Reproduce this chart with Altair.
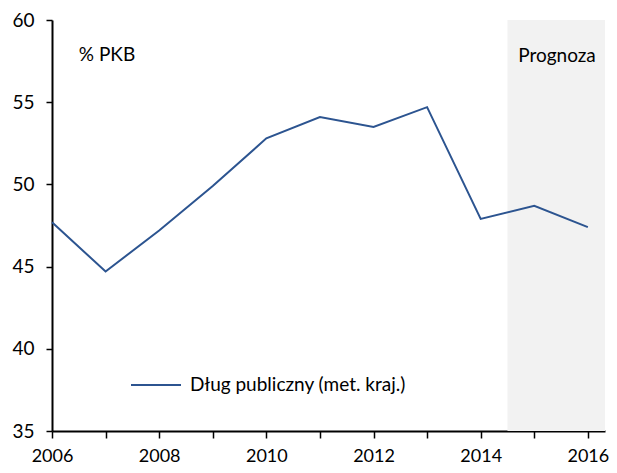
import altair as alt
import pandas as pd

years = [2006, 2007, 2008, 2009, 2010, 2011, 2012, 2013, 2014, 2015, 2016]
debt = [47.7, 44.7, 47.2, 49.9, 52.8, 54.1, 53.5, 54.7, 47.9, 48.7, 47.4]
series_name = "Dług publiczny (met. kraj.)"
forecast_start = 2014.5
x_end = 2016.32
y_ticks = [35, 40, 45, 50, 55, 60]
x_ticks = years
FONT = "Lato"

line_df = pd.DataFrame({"year": years, "value": debt, "series": series_name})
shade_df = pd.DataFrame({"x": [forecast_start], "x2": [x_end], "y": [35], "y2": [60]})
text_df = pd.DataFrame({"x": [2006.5, 2014.7], "y": [57.9, 57.8], "label": ["% PKB", "Prognoza"]})

xscale = alt.Scale(domain=[2006, x_end], nice=False, zero=False)
yscale = alt.Scale(domain=[35, 60], nice=False, zero=False)

shade = alt.Chart(shade_df).mark_rect(color="#F2F2F2").encode(
    x=alt.X("x:Q", scale=xscale),
    x2="x2:Q",
    y=alt.Y("y:Q", scale=yscale),
    y2="y2:Q",
)

line = alt.Chart(line_df).mark_line(strokeWidth=2, clip=False).encode(
    x=alt.X(
        "year:Q",
        scale=xscale,
        title=None,
        axis=alt.Axis(
            values=x_ticks,
            format="d",
            labelExpr="datum.value % 2 == 0 ? datum.label : ''",
            grid=False,
            domainColor="black",
            domainWidth=2,
            tickColor="black",
            tickWidth=1.5,
            tickSize=7,
            labelPadding=9,
            labelFontSize=18,
            labelFont=FONT,
            labelColor="black",
            labelFlush=False,
        ),
    ),
    y=alt.Y(
        "value:Q",
        scale=yscale,
        title=None,
        axis=alt.Axis(
            values=y_ticks,
            grid=False,
            domainColor="black",
            domainWidth=2,
            tickColor="black",
            tickWidth=1.5,
            tickSize=6,
            labelPadding=12,
            labelFontSize=19,
            labelFont=FONT,
            labelColor="black",
        ),
    ),
    color=alt.Color(
        "series:N",
        scale=alt.Scale(domain=[series_name], range=["#2C5490"]),
        legend=alt.Legend(
            title=None,
            orient="none",
            legendX=78,
            legendY=339,
            symbolType="stroke",
            symbolSize=2500,
            symbolStrokeWidth=2,
            labelFontSize=19,
            labelFont=FONT,
            labelColor="black",
            labelOffset=8,
            labelLimit=400,
        ),
    ),
)

texts = alt.Chart(text_df).mark_text(
    align="left", baseline="middle", fontSize=19, font=FONT, color="black"
).encode(
    x=alt.X("x:Q", scale=xscale),
    y=alt.Y("y:Q", scale=yscale),
    text="label:N",
)

chart = alt.layer(shade, line, texts).properties(
    width=553,
    height=411,
    padding={"left": 44, "top": 12, "right": 4, "bottom": 34},
    autosize=alt.AutoSizeParams(type="none"),
).configure_view(stroke=None)

chart.save("out.html", embed_options={"renderer": "svg", "actions": False})
